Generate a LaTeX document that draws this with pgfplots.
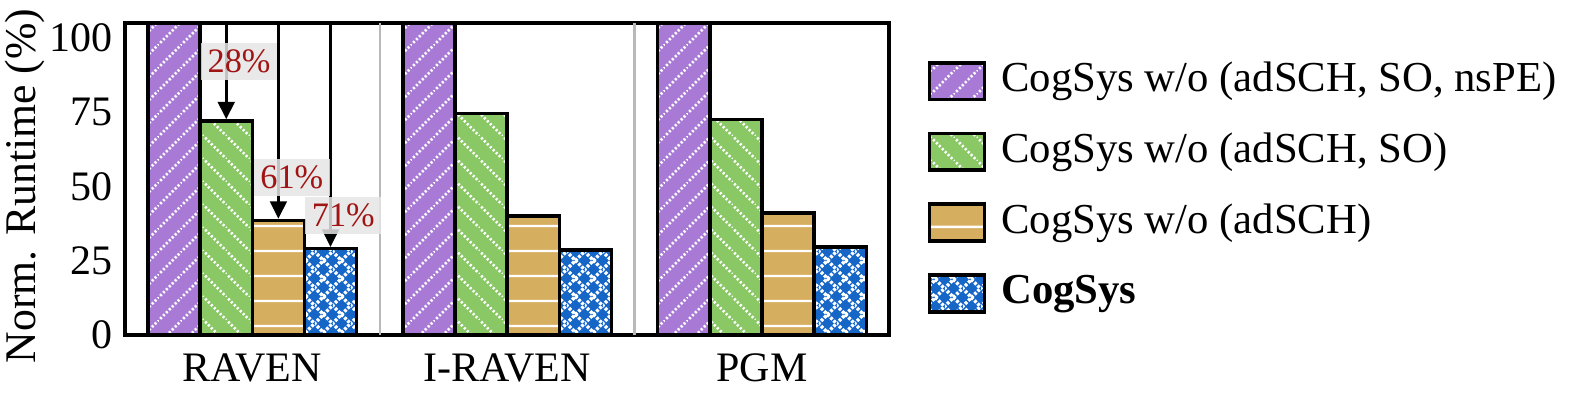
\documentclass[border=0pt]{standalone}
\usepackage{fontspec}
\setmainfont{Liberation Serif}
\usepackage{pgfplots}
\pgfplotsset{compat=1.18}
\usetikzlibrary{patterns.meta,arrows.meta}

\definecolor{cpurple}{RGB}{168,122,214}
\definecolor{cgreen}{RGB}{138,200,102}
\definecolor{corange}{RGB}{214,174,96}
\definecolor{cblue}{RGB}{22,102,200}
\definecolor{cred}{RGB}{160,20,20}

\pgfdeclarepattern{
  name=dotsNE, type=uncolored,
  bottom left={\pgfpoint{0pt}{0pt}}, top right={\pgfpoint{6.5pt}{6.5pt}},
  tile size={\pgfpoint{6.5pt}{6.5pt}},
  code={
    \pgfsetlinewidth{0.75pt}
    \pgfsetdash{{0.6pt}{0.6pt}}{0pt}
    \pgfpathmoveto{\pgfpoint{-0.5pt}{-0.5pt}}
    \pgfpathlineto{\pgfpoint{7pt}{7pt}}
    \pgfusepath{stroke}
  }
}
\pgfdeclarepattern{
  name=dotsNW, type=uncolored,
  bottom left={\pgfpoint{0pt}{0pt}}, top right={\pgfpoint{6.5pt}{6.5pt}},
  tile size={\pgfpoint{6.5pt}{6.5pt}},
  code={
    \pgfsetlinewidth{0.75pt}
    \pgfsetdash{{0.6pt}{0.6pt}}{0pt}
    \pgfpathmoveto{\pgfpoint{-0.5pt}{7pt}}
    \pgfpathlineto{\pgfpoint{7pt}{-0.5pt}}
    \pgfusepath{stroke}
  }
}
\pgfdeclarepattern{
  name=hlinesW, type=uncolored,
  bottom left={\pgfpoint{0pt}{0pt}}, top right={\pgfpoint{7pt}{7pt}},
  tile size={\pgfpoint{7pt}{7pt}},
  code={
    \pgfsetlinewidth{0.7pt}
    \pgfpathmoveto{\pgfpoint{-0.5pt}{3.5pt}}
    \pgfpathlineto{\pgfpoint{7.5pt}{3.5pt}}
    \pgfusepath{stroke}
  }
}
\pgfdeclarepattern{
  name=diamondsW, type=uncolored,
  bottom left={\pgfpoint{0pt}{0pt}}, top right={\pgfpoint{5pt}{5pt}},
  tile size={\pgfpoint{5pt}{5pt}},
  code={
    \pgfsetlinewidth{1pt}
    \pgfsetdash{{0.8pt}{0.5pt}}{0pt}
    \pgfpathmoveto{\pgfpoint{-0.3pt}{-0.3pt}}
    \pgfpathlineto{\pgfpoint{5.3pt}{5.3pt}}
    \pgfpathmoveto{\pgfpoint{-0.3pt}{5.3pt}}
    \pgfpathlineto{\pgfpoint{5.3pt}{-0.3pt}}
    \pgfusepath{stroke}
  }
}

\pgfplotsset{
  mylegend/.style={legend image code/.code={\draw[##1, line width=1.1pt] (0pt,-5.25pt) rectangle (15.7pt,5.25pt);}},
}

\newcommand{\fs}{\fontsize{12pt}{14pt}\selectfont}
\newcommand{\fsl}{\fontsize{12.2pt}{14pt}\selectfont}
\newcommand{\fsy}{\fontsize{12.5pt}{14pt}\selectfont}
\newcommand{\fsa}{\rmfamily\fontsize{9.8pt}{11pt}\selectfont}

\begin{document}
\begin{tikzpicture}
\begin{axis}[
  at={(0,0)}, anchor=south west,
  width=218.5pt, height=89.1pt, scale only axis,
  ybar=0pt, bar width=14.9pt,
  xmin=-0.5, xmax=2.5, ymin=0, ymax=105,
  xtick={0,1,2}, xticklabels={RAVEN,I-RAVEN,PGM},
  ytick={0,25,50,75,100},
  major tick length=0pt,
  axis line style={line width=1.1pt},
  /pgf/number format/assume math mode=true,
  tick label style={font=\fs},
  xticklabel style={yshift=-2pt},
  ylabel={Norm. Runtime (\%)},
  every axis y label/.style={at={(axis description cs:-0.1304,0.478)}, rotate=90, anchor=center, font=\fsy},
  legend style={at={(1.049,0.881)}, anchor=north west, draw=none, fill=none,
    font=\fsl, row sep=8.6pt, column sep=4.3pt, inner sep=0pt,
    nodes={inner sep=0pt, text height=8.5pt, text depth=2.5pt, anchor=west}},
  legend cell align=left,
]
\draw[gray!55, line width=0.7pt] (axis cs:0.5,0) -- (axis cs:0.5,105);
\draw[gray!55, line width=0.7pt] (axis cs:1.5,0) -- (axis cs:1.5,105);

\addplot[mylegend, draw=black, line width=1pt, fill=cpurple, postaction={pattern=dotsNE, pattern color=white}]
  coordinates {(0,105) (1,105) (2,105)};
\addlegendentry{CogSys w/o (adSCH, SO, nsPE)}
\addplot[mylegend, draw=black, line width=1pt, fill=cgreen, postaction={pattern=dotsNW, pattern color=white}]
  coordinates {(0,72) (1,74.5) (2,72.5)};
\addlegendentry{CogSys w/o (adSCH, SO)}
\addplot[mylegend, draw=black, line width=1pt, fill=corange, postaction={pattern=hlinesW, pattern color=white}]
  coordinates {(0,38.5) (1,40) (2,41)};
\addlegendentry{CogSys w/o (adSCH)}
\addplot[mylegend, draw=black, line width=1pt, fill=cblue, postaction={pattern=diamondsW, pattern color=white}]
  coordinates {(0,29) (1,28.5) (2,29.5)};
\addlegendentry{\textbf{CogSys}}

\draw[-{Triangle[width=4.8pt,length=5pt]}, line width=0.75pt] (axis cs:-0.1023,105) -- (axis cs:-0.1023,72.6);
\draw[-{Triangle[width=4.8pt,length=5pt]}, line width=0.75pt] (axis cs:0.1023,105) -- (axis cs:0.1023,39.1);
\draw[-{Triangle[width=4.8pt,length=5pt]}, line width=0.75pt] (axis cs:0.3069,105) -- (axis cs:0.3069,29.6);
\node[fill=gray!20, fill opacity=0.85, text opacity=1, text=cred, inner xsep=1.9pt, inner ysep=2pt, font=\fsa] at (axis cs:-0.052,92) {28\%};
\node[fill=gray!20, fill opacity=0.85, text opacity=1, text=cred, inner xsep=1.9pt, inner ysep=2pt, font=\fsa] at (axis cs:0.155,53) {61\%};
\node[fill=gray!20, fill opacity=0.85, text opacity=1, text=cred, inner xsep=1.9pt, inner ysep=2pt, font=\fsa] at (axis cs:0.357,40.1) {71\%};
\end{axis}
\pgfresetboundingbox
\path[use as bounding box] (-35.7pt,-21.7pt) rectangle (415.3pt,95.7pt);
\end{tikzpicture}
\end{document}
